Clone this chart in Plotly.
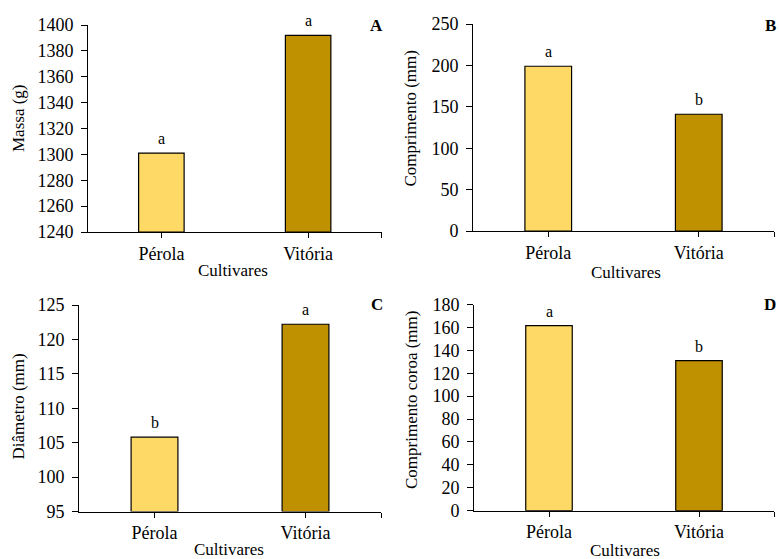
import plotly.graph_objects as go

categories = ["Pérola", "Vitória"]
massa = [1301, 1392]
comprimento = [199, 141]
diametro = [105.8, 122.2]
comprimento_coroa = [161.5, 131]

letters_massa = ["a", "a"]
letters_comprimento = ["a", "b"]
letters_diametro = ["b", "a"]
letters_coroa = ["a", "b"]

ytitles = ["Massa (g)", "Comprimento (mm)", "Diâmetro (mm)", "Comprimento coroa (mm)"]
panel_labels = ["A", "B", "C", "D"]
xtitle = "Cultivares"

colors = ["#FFD966", "#BF9000"]
FONT = "Liberation Serif, Times New Roman, serif"

W, H = 779, 559

# panel geometry in window pixels: (x0, x1, ytop, ybottom)
geom = [
    (88, 381.5, 25, 232),
    (473, 774, 24, 231),
    (79, 381, 305, 511.5),
    (474, 774, 304.5, 510.7),
]
yranges = [(1240, 1400, 20), (0, 250, 50), (95, 125, 5), (0, 180, 20)]
values = [massa, comprimento, diametro, comprimento_coroa]
letters = [letters_massa, letters_comprimento, letters_diametro, letters_coroa]
ytitle_pos = [(18, 118), (410, 118.5), (18, 406.5), (411, 400)]
xtitle_pos = [(233, 270), (626, 272), (229, 549), (625, 550)]
panel_pos = [(385, 26), (778, 26), (385, 304), (778, 304)]


def px(x):
    return x / W


def py(y):
    return 1 - y / H


fig = go.Figure()
xs = list(range(len(categories)))

for i in range(4):
    n = i + 1
    xa = "x" if n == 1 else f"x{n}"
    ya = "y" if n == 1 else f"y{n}"
    lo, hi, st = yranges[i]
    fig.add_trace(go.Bar(
        x=xs, y=[v - lo for v in values[i]], base=lo, xaxis=xa, yaxis=ya,
        width=0.31,
        marker=dict(color=colors, line=dict(color="black", width=1.2)),
        showlegend=False, hoverinfo="skip",
    ))
    x0, x1, yt, yb = geom[i]
    xkey = "xaxis" if n == 1 else f"xaxis{n}"
    ykey = "yaxis" if n == 1 else f"yaxis{n}"
    fig.update_layout(**{
        xkey: dict(
            domain=[px(x0), px(x1)], range=[-0.5, 1.5], anchor=ya,
            tickvals=xs + [1.5], ticktext=categories + [""],
            ticks="outside", ticklen=5, tickcolor="black", tickwidth=1,
            showline=True, linecolor="black", linewidth=1,
            showgrid=False, zeroline=False, fixedrange=True, automargin=False,
            tickfont=dict(family=FONT, size=18, color="black"),
        ),
        ykey: dict(
            domain=[py(yb), py(yt)], range=[lo, hi], anchor=xa,
            tickvals=list(range(lo, hi + 1, st)),
            ticks="outside", ticklen=6, tickcolor="black", tickwidth=1,
            showline=True, linecolor="black", linewidth=1,
            showgrid=False, zeroline=False, fixedrange=True, automargin=False,
            ticklabelstandoff=4,
            tickfont=dict(family=FONT, size=18, color="black"),
        ),
    })
    for j, c in enumerate(categories):
        fig.add_annotation(
            x=xs[j], y=values[i][j], xref=xa, yref=ya,
            text=letters[i][j], showarrow=False, yanchor="bottom", yshift=4,
            font=dict(family=FONT, size=16, color="black"),
        )
    tx, ty = ytitle_pos[i]
    fig.add_annotation(
        x=px(tx), y=py(ty), xref="paper", yref="paper", text=ytitles[i],
        textangle=-90, showarrow=False, xanchor="center", yanchor="middle",
        font=dict(family=FONT, size=17, color="black"),
    )
    cx, cy = xtitle_pos[i]
    fig.add_annotation(
        x=px(cx), y=py(cy), xref="paper", yref="paper", text=xtitle,
        showarrow=False, xanchor="center", yanchor="middle",
        font=dict(family=FONT, size=17, color="black"),
    )
    lx, ly = panel_pos[i]
    fig.add_annotation(
        x=px(lx), y=py(ly), xref="paper", yref="paper",
        text=f"<b>{panel_labels[i]}</b>",
        showarrow=False, xanchor="right", yanchor="middle",
        font=dict(family=FONT, size=17, color="black"),
    )

fig.update_layout(
    width=W, height=H, margin=dict(l=0, r=0, t=0, b=0, autoexpand=False),
    paper_bgcolor="white", plot_bgcolor="white", bargap=0,
)
fig.write_html(
    "out.html",
    config={"displayModeBar": False, "staticPlot": True},
    post_script="document.body.style.margin='0px';document.body.style.overflow='hidden';",
)
